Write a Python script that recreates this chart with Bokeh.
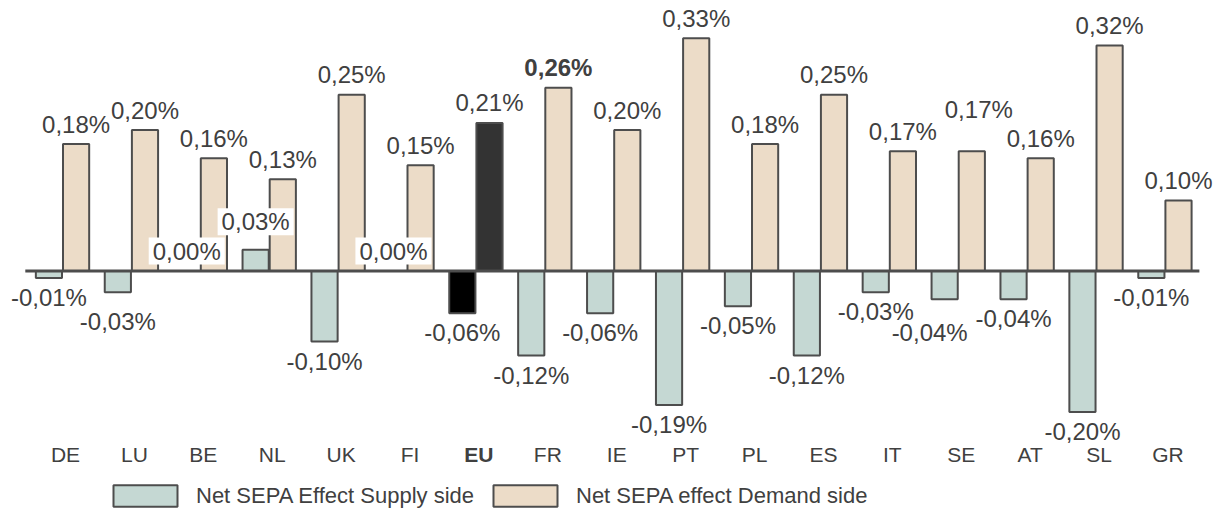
from bokeh.plotting import figure
from bokeh.models import ColumnDataSource, Range1d, Legend, LegendItem
from bokeh.core.properties import value
from bokeh.embed import file_html
from bokeh.resources import INLINE

# ---------------- data ----------------
countries = ["DE", "LU", "BE", "NL", "UK", "FI", "EU", "FR", "IE",
             "PT", "PL", "ES", "IT", "SE", "AT", "SL", "GR"]
supply = [-0.01, -0.03, 0.00, 0.03, -0.10, 0.00, -0.06, -0.12, -0.06,
          -0.19, -0.05, -0.12, -0.03, -0.04, -0.04, -0.20, -0.01]
demand = [0.18, 0.20, 0.16, 0.13, 0.25, 0.15, 0.21, 0.26, 0.20,
          0.33, 0.18, 0.25, 0.17, 0.17, 0.16, 0.32, 0.10]
series_names = ["Net SEPA Effect Supply side", "Net SEPA effect Demand side"]
highlight = "EU"

# ---------------- styling ----------------
FONT = "Liberation Sans"
TXT = "#404040"
EDGE = "#4d4d4d"
C_SUP, C_DEM = "#c5d8d3", "#ecdcc8"
C_SUP_HI, C_DEM_HI = "#000000", "#333333"
W, H = 1219, 515
BAR_W = 0.38
OFF = 0.197

# manual label nudges (pixels) copied from the reference layout
sup_nudge = {"LU": (0, 10), "NL": (0, -8), "SE": (-15, 14)}
dem_nudge = {"SE": (7, -22)}
bold_dem = {"FR"}
boxed_sup = {"BE", "NL", "FI"}

n = len(countries)
idx = list(range(n))


def fmt(v):
    return f"{v:.2f}".replace(".", ",") + "%"


def label_offsets(vals, nudge):
    xo, yo = [], []
    for c, v in zip(countries, vals):
        dx, dy = nudge.get(c, (0, 0))
        base = -20 if v >= 0 else 19.5
        xo.append(dx)
        yo.append(base + dy)
    return xo, yo


sx_off, sy_off = label_offsets(supply, sup_nudge)
dx_off, dy_off = label_offsets(demand, dem_nudge)

src_s = ColumnDataSource(dict(
    x=[i - OFF for i in idx], top=supply,
    color=[C_SUP_HI if c == highlight else C_SUP for c in countries],
    label=[fmt(v) for v in supply], xo=sx_off, yo=sy_off,
    style=["normal"] * n,
    bg=["white" if c in boxed_sup else "rgba(0,0,0,0)" for c in countries],
))
src_d = ColumnDataSource(dict(
    x=[i + OFF for i in idx], top=demand,
    color=[C_DEM_HI if c == highlight else C_DEM for c in countries],
    label=[fmt(v) for v in demand], xo=dx_off, yo=dy_off,
    style=["bold" if c in bold_dem else "normal" for c in countries],
    bg=["rgba(0,0,0,0)"] * n,
))
src_c = ColumnDataSource(dict(
    x=idx, y=[0] * n, label=countries,
    style=["bold" if c == highlight else "normal" for c in countries],
))

p = figure(width=W, height=H, x_range=Range1d(-0.900, 16.792),
           y_range=Range1d(-0.3468, 0.3837), output_backend="svg",
           toolbar_location=None, x_axis_type=None, y_axis_type=None,
           min_border=0, outline_line_color=None)
p.xgrid.visible = False
p.ygrid.visible = False

rs = p.vbar(x="x", top="top", bottom=0, width=BAR_W, source=src_s,
            fill_color="color", line_color=EDGE, line_width=2)
rd = p.vbar(x="x", top="top", bottom=0, width=BAR_W, source=src_d,
            fill_color="color", line_color=EDGE, line_width=2)

# zero line
p.segment(x0=[-0.54], y0=[0], x1=[n - 0.5], y1=[0], line_color=EDGE, line_width=3)

for src in (src_s, src_d):
    p.text(x="x", y="top", text="label", source=src, x_offset="xo", y_offset="yo",
           text_align="center", text_baseline="middle",
           text_font=value(FONT), text_font_size="24px", text_color=TXT,
           text_font_style="style", background_fill_color="bg",
           padding=dict(x=4, y=0))

p.text(x="x", y="y", text="label", source=src_c, x_offset=3, y_offset=183.7,
       text_align="center", text_baseline="middle",
       text_font=value(FONT), text_font_size="21px", text_color=TXT,
       text_font_style="style")

common = dict(orientation="horizontal", padding=0, margin=0, spacing=0,
              border_line_color=None, background_fill_alpha=0,
              glyph_width=80, glyph_height=27, label_standoff=11,
              label_text_font=FONT, label_text_font_size="22px",
              label_text_color=TXT)
leg1 = Legend(items=[LegendItem(label=series_names[0], renderers=[rs], index=0)],
              location=(105, 6), **common)
leg2 = Legend(items=[LegendItem(label=series_names[1], renderers=[rd], index=0)],
              location=(485, 6), **common)
p.add_layout(leg1)
p.add_layout(leg2)

open("out.html", "w").write(file_html(p, INLINE))
